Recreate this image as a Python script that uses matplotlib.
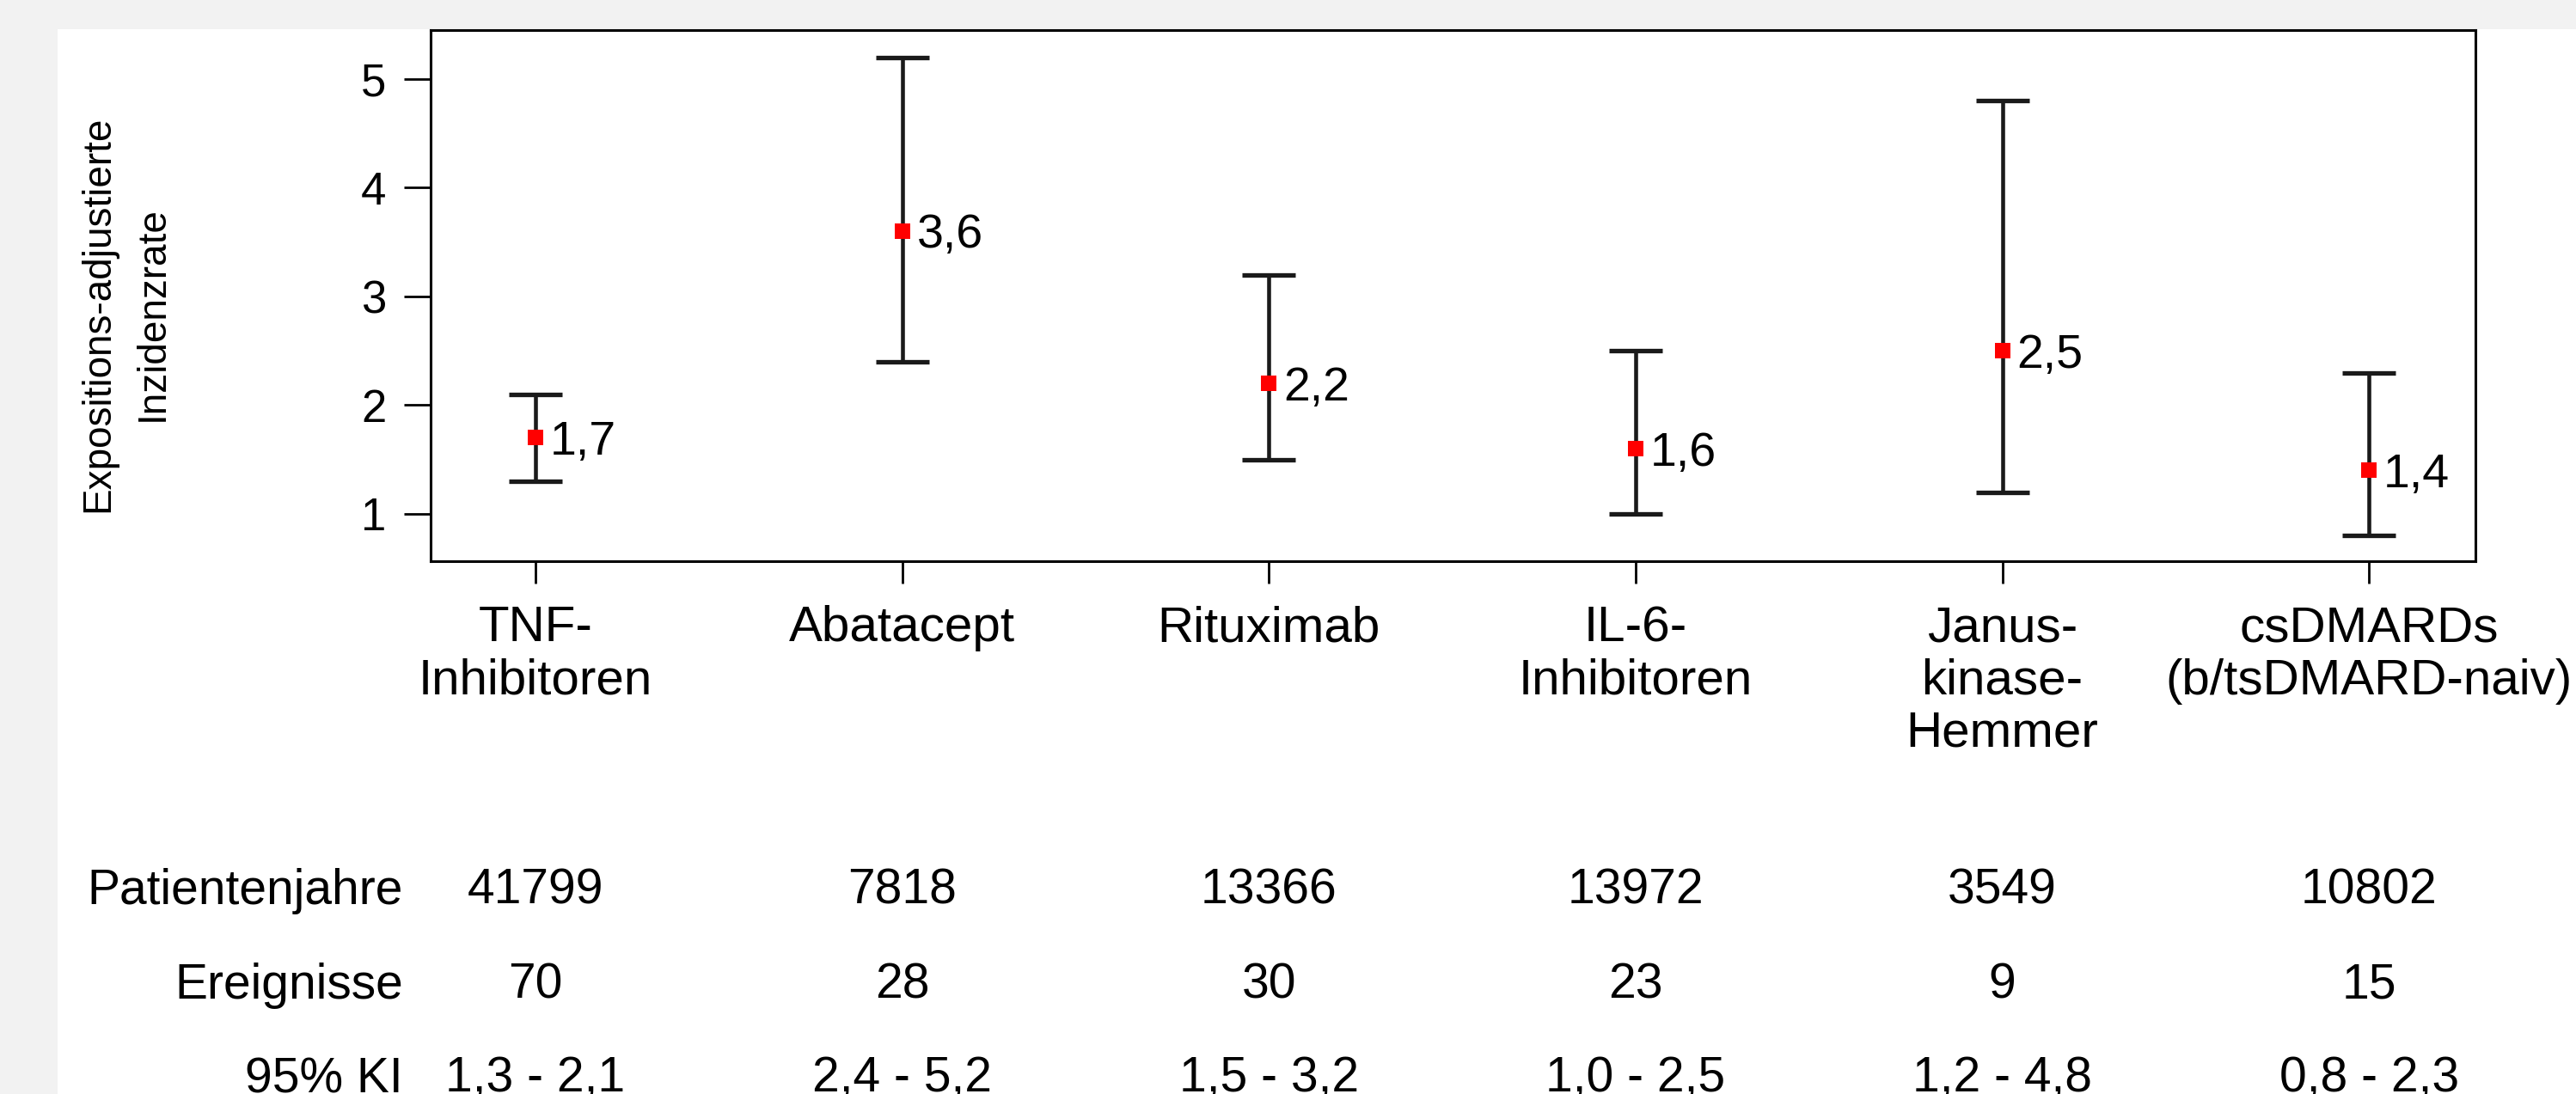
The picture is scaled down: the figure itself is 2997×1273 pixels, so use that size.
import matplotlib
matplotlib.use("Agg")
import matplotlib.pyplot as plt
from matplotlib.patches import Rectangle
from matplotlib.transforms import blended_transform_factory

# ---------- Daten ----------
kategorien = ["TNF-\nInhibitoren", "Abatacept", "Rituximab", "IL-6-\nInhibitoren",
              "Janus-\nkinase-\nHemmer", "csDMARDs\n(b/tsDMARD-naiv)"]
rate = [1.7, 3.6, 2.2, 1.6, 2.5, 1.4]
ki_unten = [1.3, 2.4, 1.5, 1.0, 1.2, 0.8]
ki_oben = [2.1, 5.2, 3.2, 2.5, 4.8, 2.3]
patientenjahre = [41799, 7818, 13366, 13972, 3549, 10802]
ereignisse = [70, 28, 30, 23, 9, 15]
y_ticks = [1, 2, 3, 4, 5]


def de(v):
    return f"{v:.1f}".replace(".", ",")


plt.rcParams['font.family'] = ['Liberation Sans', 'DejaVu Sans']

W, H = 2997, 1273
fig = plt.figure(figsize=(W / 100, H / 100), dpi=100)
fig.patch.set_facecolor("#f2f2f2")
# weisses Feld
fig.patches.append(Rectangle((67 / W, 0), 1 - 67 / W, 1 - 33.5 / H,
                             transform=fig.transFigure, facecolor="white",
                             edgecolor="none", zorder=-10))

ax = fig.add_axes([500.6 / W, 1 - 653 / H, (2880 - 500.6) / W, (653 - 35) / H])
ax.set_facecolor("white")

x = list(range(len(kategorien)))
err_lo = [r - u for r, u in zip(rate, ki_unten)]
err_hi = [o - r for r, o in zip(rate, ki_oben)]
ax.errorbar(x, rate, yerr=[err_lo, err_hi], fmt='none', ecolor="#1a1a1a",
            elinewidth=3.3, capsize=22, capthick=3.8, zorder=2)
ax.plot(x, rate, 's', color="#ff0000", markersize=13, markeredgewidth=0, zorder=3)

for xi, r in zip(x, rate):
    ax.annotate(de(r), (xi, r), xytext=(12, -14), textcoords="offset points",
                ha="left", va="baseline", fontsize=40, color="black")

ax.set_xlim(-0.287, 5.29)
ax.set_ylim(0.565, 5.45)
ax.set_yticks(y_ticks)
ax.set_yticklabels([str(t) for t in y_ticks])
ax.set_xticks(x)
ax.set_xticklabels(kategorien, fontsize=42, linespacing=1.17)

ax.tick_params(axis="y", length=22, width=2, pad=15, labelsize=38)
ax.tick_params(axis="x", length=19, width=2, pad=18)
for s in ax.spines.values():
    s.set_linewidth(2.2)

fig.text(146 / W, 1 - 365 / H, "Expositions-adjustierte\nInzidenzrate", rotation=90,
         ha="center", va="center", multialignment="center", fontsize=33,
         linespacing=1.55)

# ---------- Tabelle ----------
tr = blended_transform_factory(ax.transData, fig.transFigure)
zeilen = [
    ("Patientenjahre", [str(v) for v in patientenjahre], 1052),
    ("Ereignisse", [str(v) for v in ereignisse], 1162),
    ("95% KI", [f"{de(u)} - {de(o)}" for u, o in zip(ki_unten, ki_oben)], 1271),
]
for name, werte, ypx in zeilen:
    fig.text(469 / W, 1 - ypx / H, name, ha="right", va="baseline", fontsize=41)
    for xi, w in zip(x, werte):
        ax.text(xi, 1 - ypx / H, w, transform=tr, ha="center", va="baseline",
                fontsize=41, clip_on=False)

fig.savefig("out.png", dpi=100, facecolor=fig.get_facecolor())
